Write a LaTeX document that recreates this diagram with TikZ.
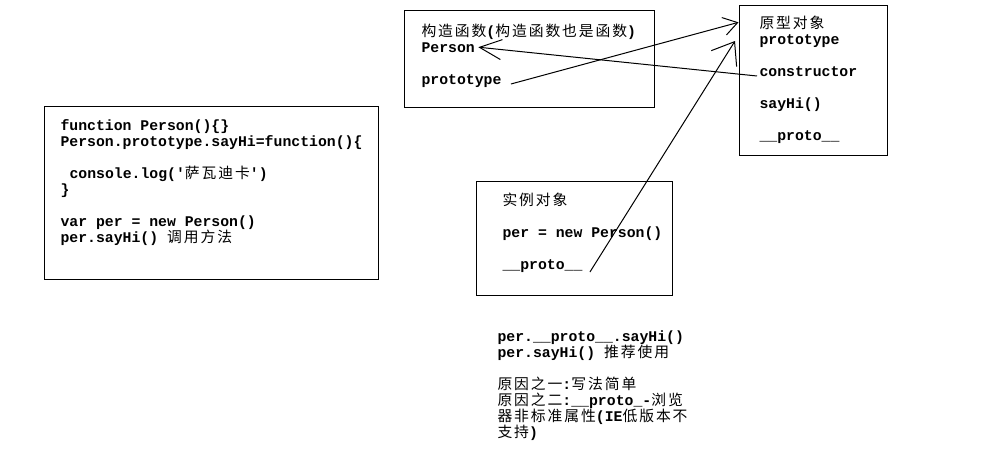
\documentclass[tikz,border=0pt]{standalone}
\usepackage{fontspec}
\setmonofont{Liberation Mono}
\newfontfamily\cjk[LetterSpace=13,BoldFont={Noto Sans CJK SC}]{Noto Sans CJK SC}
\usetikzlibrary{arrows.meta}

\begin{document}
\begin{tikzpicture}[x=1pt,y=-1pt,line width=1pt,
	box/.style={draw,inner sep=0pt},
	txt/.style={anchor=base west,inner sep=0pt,font=\ttfamily\bfseries\fontsize{14.8pt}{16pt}\selectfont},
	arr/.style 2 args={-{Straight Barb[length=#1,width=#2]}}]
	\useasboundingbox (0,0) rectangle (993,458);
	% boxes
	\draw (211,192.5) node(b1) [box,minimum width=334pt,minimum height=173pt] {};
	\draw (529,58.5) node(b2) [box,minimum width=250pt,minimum height=97pt] {};
	\draw (813,80) node(b3) [box,minimum width=148pt,minimum height=150pt] {};
	\draw (574,238) node(b4) [box,minimum width=196pt,minimum height=114pt] {};
	% code
	\draw (60,130) node(s1) [txt] {function Person()\{\}};
	\draw (60,146) node(s2) [txt] {Person.prototype.sayHi=function()\{};
	\draw (69,178) node(s3) [txt] {console.log(\textquotesingle{\cjk 萨瓦迪卡}\textquotesingle)};
	\draw (60,194) node(s4) [txt] {\}};
	\draw (60,226) node(s5) [txt] {var per = new Person()};
	\draw (60,242) node(s6) [txt] {per.sayHi() {\cjk 调用方法}};
	% constructor
	\draw (421,36) node(c1) [txt] {{\cjk 构造函数}({\cjk 构造函数也是函数})};
	\draw (421,52) node(c2) [txt] {Person};
	\draw (421,84) node(c3) [txt] {prototype};
	% prototype object
	\draw (759,28) node(p1) [txt] {{\cjk 原型对象}};
	\draw (759,44) node(p2) [txt] {prototype};
	\draw (759,76) node(p3) [txt] {constructor};
	\draw (759,108) node(p4) [txt] {sayHi()};
	\draw (759,140) node(p5) [txt] {\_\_proto\_\_};
	% instance
	\draw (502,205) node(i1) [txt] {{\cjk 实例对象}};
	\draw (502,237) node(i2) [txt] {per = new Person()};
	\draw (502,269) node(i3) [txt] {\_\_proto\_\_};
	% notes
	\draw (497,341) node(n1) [txt] {per.\_\_proto\_\_.sayHi()};
	\draw (497,357) node(n2) [txt] {per.sayHi() {\cjk 推荐使用}};
	\draw (497,389) node(n3) [txt] {{\cjk 原因之一}:{\cjk 写法简单}};
	\draw (497,405) node(n4) [txt] {{\cjk 原因之二}:\_\_proto\_-{\cjk 浏览}};
	\draw (497,421) node(n5) [txt] {{\cjk 器非标准属性}(IE{\cjk 低版本不}};
	\draw (497,437) node(n6) [txt] {{\cjk 支持})};
	\coordinate (h1) at (735,41);
	\path[draw,arr={14pt}{18pt}] ([xshift=9pt]c3.base east) -- (b3.west |- p1.center);
	\path[draw,arr={22pt}{20pt}] ([xshift=-2pt]p3.base west) -- ([xshift=3pt]c2.east);
	\path[draw,arr={20pt}{30pt}] ([shift={(7pt,-3pt)}]i3.base east) -- (h1);
\end{tikzpicture}
\end{document}
